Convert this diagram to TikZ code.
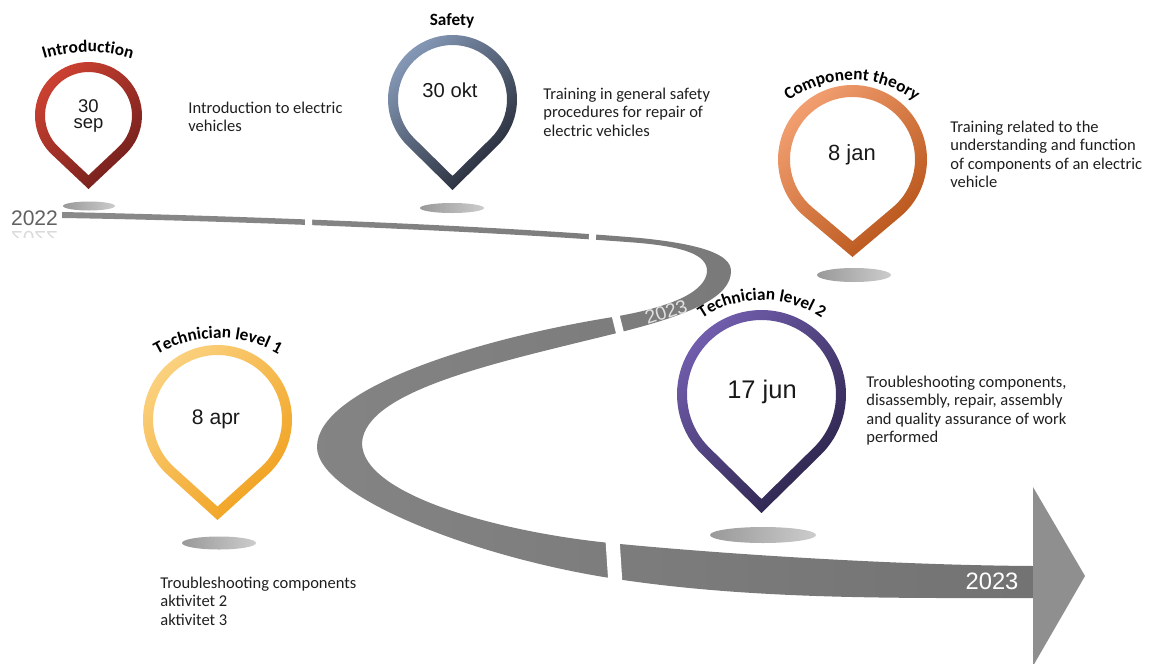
\documentclass[tikz,border=0pt]{standalone}
\usepackage{fontspec}
\setmainfont{Carlito}
\newfontfamily\datafont{Liberation Sans}
\usetikzlibrary{decorations.text}

\definecolor{rossoA}{RGB}{206,66,50}
\definecolor{rossoB}{RGB}{112,30,28}
\definecolor{bluA}{RGB}{134,154,184}
\definecolor{bluB}{RGB}{34,38,50}
\definecolor{aranA}{RGB}{243,160,114}
\definecolor{aranB}{RGB}{182,82,22}
\definecolor{gialA}{RGB}{251,210,128}
\definecolor{gialB}{RGB}{240,160,28}
\definecolor{violA}{RGB}{114,94,174}
\definecolor{violB}{RGB}{42,34,72}

\newcommand{\lblfont}{\fontsize{9.8}{11}\selectfont\bfseries}

% perno: centro x, centro y, raggio, distanza punta, spessore, colore chiaro, colore scuro
\newcommand{\perno}[7]{%
  \pgfmathsetmacro{\pa}{acos(#3/#4)}%
  \pgfmathsetmacro{\pr}{#3-#5}%
  \pgfmathsetmacro{\pd}{#4-#5*#4/#3}%
  \shade[even odd rule, top color=#6, bottom color=#7, shading angle=45]
    (#1,#2+#4) -- ([shift={(90-\pa:#3)}]#1,#2) arc[start angle=90-\pa, end angle=-270+\pa, radius=#3] -- cycle
    (#1,#2+\pd) -- ([shift={(90-\pa:\pr)}]#1,#2) arc[start angle=90-\pa, end angle=-270+\pa, radius=\pr] -- cycle;
}

\tikzset{
  road/.style={left color=black!46, right color=black!55},
  roadgap/.style={draw=white, line width=#1},
  roadgap/.default=4pt,
  desc/.style={anchor=north west, align=left, inner sep=0pt, text=black!88, font=\fontsize{9.4}{10.3}\selectfont},
  datetxt/.style={anchor=base, align=center, inner sep=0pt, text=black!90, font=\datafont\fontsize{#1}{#1}\selectfont},
  shadowdisk/.style={left color=black!40, right color=black!20},
  pinlabel/.style={decorate, decoration={text along path, text align=center, text={|\lblfont|#1}}}
}

\begin{document}
\begin{tikzpicture}[x=0.02cm, y=-0.02cm]
  \useasboundingbox (0,0) rectangle (1156,663);

  % strada
  \shade[road] (62,212) .. controls (250,216) and (500,226) .. (640,238)
    .. controls (700,244) and (731,254) .. (731,271)
    .. controls (731,296) and (695,314) .. (613,334)
    .. controls (500,362) and (365,390) .. (362,443)
    .. controls (362,495) and (500,532) .. (610,543)
    .. controls (700,552) and (880,565) .. (1033,566)
    -- (1033,598)
    .. controls (900,598) and (750,600) .. (610,578)
    .. controls (470,556) and (317,495) .. (317,447)
    .. controls (317,390) and (470,340) .. (613,317)
    .. controls (678,306) and (705,290) .. (707,272)
    .. controls (708,254) and (682,247) .. (640,243)
    .. controls (500,232) and (250,221) .. (62,218) -- cycle;
  \fill[black!44] (1033,487) -- (1085,576) -- (1033,666) -- cycle; % punta

  % interruzioni
  \draw[roadgap] (308,206) -- (309,232);
  \draw[roadgap] (593,222) -- (592,250);
  \draw[roadgap=4.5pt] (613,305) -- (623,345);
  \draw[roadgap=8pt] (612,532) -- (616,592);

  % anni
  \node[text=black!62, inner sep=0pt, font=\datafont\fontsize{12}{12}\selectfont] (anno22) at (34.5,218) {2022};
  \begin{scope}
    \clip (5,230) rectangle (62,237);
    \node[text=black!14, inner sep=0pt, font=\datafont\fontsize{12}{12}\selectfont] (anno22r) at (34.5,239) {\scalebox{1}[-1]{2022}};
  \end{scope}
  \node[text=white!88!black, rotate=18, inner sep=0pt, font=\datafont\fontsize{11}{11}\selectfont] (anno23a) at (666,312) {2023};
  \node[text=white, inner sep=0pt, font=\datafont\fontsize{13.5}{13.5}\selectfont] (anno23b) at (992,581) {2023};

  % ombre
  \shade[shadowdisk] (89,206) ellipse[x radius=26, y radius=4.5];
  \shade[shadowdisk] (452,208) ellipse[x radius=32, y radius=5];
  \shade[shadowdisk] (854,275) ellipse[x radius=37, y radius=7];
  \shade[shadowdisk] (219,543) ellipse[x radius=37, y radius=6.5];
  \shade[shadowdisk] (763,535) ellipse[x radius=53, y radius=8];

  % perni
  \perno{88.5}{115.5}{53.5}{73.5}{10}{rossoA}{rossoB}
  \perno{452.5}{99.5}{64.5}{90.5}{10}{bluA}{bluB}
  \perno{852.5}{159.5}{74.5}{97.5}{12}{aranA}{aranB}
  \perno{217.5}{419.5}{74.5}{100.5}{10}{gialA}{gialB}
  \perno{761.5}{394.5}{84.5}{118.5}{10}{violA}{violB}

  % date
  \node[datetxt=10.5, anchor=north, text depth=0pt] (d1) at (88.5,99) {30\\[-1.5pt]sep};
  \node[datetxt=11.5] (d2) at (450,97) {30 okt};
  \node[datetxt=12.5] (d3) at (852,160) {8 jan};
  \node[datetxt=12] (d4) at (216,424) {8 apr};
  \node[datetxt=14.5] (d5) at (762,398) {17 jun};

  % titoli
  \path[pinlabel=Introduction] ([shift={(-130:150)}]88,202) arc[start angle=-130, end angle=-50, radius=150];
  \node[inner sep=0pt, font=\lblfont] (t2) at (452,21) {Safety};
  \path[pinlabel=Component theory] ([shift={(-160:105)}]852,185) arc[start angle=-160, end angle=-20, radius=105];
  \path[pinlabel=Technician level 1] ([shift={(-150:120)}]218,458) arc[start angle=-150, end angle=-30, radius=120];
  \path[pinlabel=Technician level 2] ([shift={(-160:107)}]762,407) arc[start angle=-160, end angle=-20, radius=107];

  % descrizioni
  \node[desc] (c1) at (188,102) {Introduction to electric\\vehicles};
  \node[desc] (c2) at (543,88) {Training in general safety\\procedures for repair of\\electric vehicles};
  \node[desc] (c3) at (950,121) {Training related to the\\understanding and function\\of components of an electric\\vehicle};
  \node[desc] (c4) at (160,577) {Troubleshooting components\\aktivitet 2\\aktivitet 3};
  \node[desc] (c5) at (866,376) {Troubleshooting components,\\disassembly, repair, assembly\\and quality assurance of work\\performed};
\end{tikzpicture}
\end{document}
